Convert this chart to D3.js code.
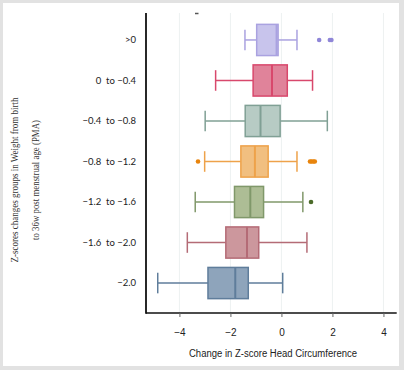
<!DOCTYPE html>
<html><head><meta charset="utf-8">
<script src="https://cdn.jsdelivr.net/npm/d3@7"></script>
<style>html,body{margin:0;padding:0;background:#e2e2e2;}svg{display:block;}</style>
</head><body>
<svg id="c" width="404" height="370"></svg>
<script>
const categories = [">0", "0  to \u22120.4", "\u22120.4  to \u22120.8", "\u22120.8  to \u22121.2", "\u22121.2  to \u22121.6", "\u22121.6  to \u22122.0", "\u22122.0"];
const whiskerLow  = [-1.43, -2.58, -2.99, -3.01, -3.38, -3.69, -4.85];
const q1          = [-0.97, -1.11, -1.42, -1.59, -1.84, -2.18, -2.88];
const medians     = [-0.19, -0.37, -0.82, -1.04, -1.22, -1.35, -1.81];
const q3          = [-0.13, 0.23, -0.05, -0.52, -0.70, -0.89, -1.30];
const whiskerHigh = [0.61, 1.22, 1.80, 0.61, 0.84, 1.00, 0.05];
const outliers    = [[1.48, 1.90, 1.96], [], [], [-3.27, 1.12, 1.18, 1.25, 1.31], [1.16], [], []];
const fills   = ["#c8c4ec", "#e0839a", "#b7cbc4", "#f1bf80", "#adbd95", "#cc979d", "#8ea4bb"];
const strokes = ["#aaa2e0", "#d8486c", "#80a095", "#eea24a", "#80986a", "#b46b76", "#5f7d9b"];
const outlierColors = ["#8f86d8", "#d8486c", "#80a095", "#e8840c", "#4c6b2a", "#b46b76", "#5f7d9b"];
const xTicks = [-4, -2, 0, 2, 4];
const xTitle = "Change in Z-score Head Circumference";
const yTitle = ["Z-scores changes groups in Weight from birth", "to 36w post menstrual age (PMA)"];

const svg = d3.select("#c");
svg.append("rect").attr("x", 3).attr("y", 3).attr("width", 396).attr("height", 363).attr("fill", "#fff");

const x = d3.scaleLinear().domain([-5.31, 4.52]).range([146, 396.7]);
const y = d3.scaleBand().domain(categories).range([11, 312]).paddingInner(0.23).paddingOuter(0.33);
const bw = y.bandwidth();

// gridlines
svg.append("g").selectAll("line").data(xTicks).join("line")
  .attr("x1", d => x(d)).attr("x2", d => x(d)).attr("y1", 13).attr("y2", 313)
  .attr("stroke", "#edf1f1").attr("stroke-width", 1);

// tiny mark near top
svg.append("line").attr("x1", 195).attr("x2", 198.5).attr("y1", 13.5).attr("y2", 13.5).attr("stroke", "#555").attr("stroke-width", 1.5);

const rows = svg.append("g").selectAll("g").data(categories).join("g")
  .attr("transform", d => `translate(0,${y(d) + bw / 2})`);

rows.each(function(c, i) {
  const g = d3.select(this);
  const st = strokes[i];
  const capH = bw * 0.66;
  g.append("line").attr("x1", x(whiskerLow[i])).attr("x2", x(q1[i])).attr("stroke", st).attr("stroke-width", 1.5);
  g.append("line").attr("x1", x(q3[i])).attr("x2", x(whiskerHigh[i])).attr("stroke", st).attr("stroke-width", 1.5);
  [whiskerLow[i], whiskerHigh[i]].forEach(v => {
    g.append("line").attr("x1", x(v)).attr("x2", x(v)).attr("y1", -capH / 2).attr("y2", capH / 2)
      .attr("stroke", st).attr("stroke-width", 1.5);
  });
  g.append("rect").attr("x", x(q1[i])).attr("y", -bw / 2).attr("width", x(q3[i]) - x(q1[i])).attr("height", bw)
    .attr("fill", fills[i]).attr("stroke", st).attr("stroke-width", 1.5);
  g.append("line").attr("x1", x(medians[i])).attr("x2", x(medians[i])).attr("y1", -bw / 2).attr("y2", bw / 2)
    .attr("stroke", st).attr("stroke-width", 2);
  g.selectAll("circle").data(outliers[i]).join("circle")
    .attr("cx", d => x(d)).attr("cy", 0).attr("r", 2.3).attr("fill", outlierColors[i]);
});

// axes
const xAxis = d3.axisBottom(x).tickValues(xTicks).tickSize(4).tickPadding(12)
  .tickFormat(d => d < 0 ? "\u2212" + Math.abs(d) : String(d));
const gx = svg.append("g").attr("transform", "translate(0,313)").call(xAxis);
gx.select(".domain").attr("stroke", "#111").attr("stroke-width", 1.5).attr("d", "M146,0H396.7");
gx.selectAll(".tick line").attr("stroke", "#666").attr("stroke-width", 1);
gx.selectAll(".tick text").attr("font-family", "Liberation Sans, Arial, sans-serif").attr("font-size", 10).attr("fill", "#222");

svg.append("line").attr("x1", 146).attr("x2", 146).attr("y1", 13).attr("y2", 313.7).attr("stroke", "#111").attr("stroke-width", 1.8);

// y labels
svg.append("g").selectAll("text").data(categories).join("text")
  .attr("x", 136).attr("y", d => y(d) + bw / 2).attr("dy", "0.35em").attr("text-anchor", "end")
  .attr("font-family", "Lato, sans-serif").attr("font-size", 9.5).attr("fill", "#222")
  .style("white-space", "pre").text(d => d);

svg.append("text").attr("x", 273).attr("y", 353).attr("dy", "0.35em").attr("text-anchor", "middle")
  .attr("font-family", "Liberation Sans, Arial, sans-serif").attr("font-size", 10).attr("fill", "#222")
  .attr("textLength", 168).attr("lengthAdjust", "spacingAndGlyphs").text(xTitle);

const yt = svg.append("g").attr("transform", "translate(0,180) rotate(-90)");
yt.append("text").attr("x", 0).attr("y", 14).attr("dy", "0.35em").attr("text-anchor", "middle")
  .attr("font-family", "Liberation Serif, Times New Roman, serif").attr("font-size", 10.5).attr("fill", "#333")
  .attr("textLength", 165).attr("lengthAdjust", "spacingAndGlyphs").text(yTitle[0]);
yt.append("text").attr("x", 0).attr("y", 35.5).attr("dy", "0.35em").attr("text-anchor", "middle")
  .attr("font-family", "Liberation Serif, Times New Roman, serif").attr("font-size", 10.5).attr("fill", "#333")
  .attr("textLength", 120).attr("lengthAdjust", "spacingAndGlyphs").text(yTitle[1]);
</script>
</body></html>
